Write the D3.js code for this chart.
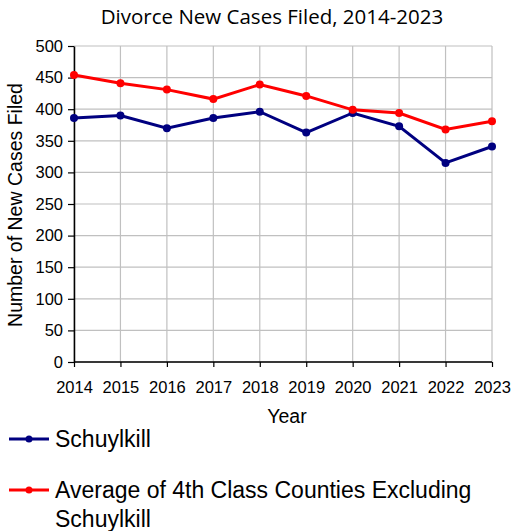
<!DOCTYPE html>
<html><head><meta charset="utf-8">
<script src="https://cdn.jsdelivr.net/npm/d3@7"></script>
<style>body{margin:0;background:#fff}svg{display:block;font-family:"Liberation Sans",Arial,sans-serif}</style>
</head><body><svg id="c" width="513" height="531"></svg>
<script>
const years = [2014,2015,2016,2017,2018,2019,2020,2021,2022,2023];
const schuylkill = [386,390,370,386,396,363,394,373,315,341];
const average4th = [454,441,431,416,439,421,399,394,368,381];
const yTicks = [0,50,100,150,200,250,300,350,400,450,500];
const seriesNames = ["Schuylkill","Average of 4th Class Counties Excluding Schuylkill"];

const svg = d3.select("#c");
const L=74,R=492,T=46,B=362;
const x = d3.scalePoint().domain(years).range([L,R]);
const y = d3.scaleLinear().domain([0,500]).range([B,T]);

// grid
svg.append("g").selectAll("line").data(yTicks).join("line")
  .attr("x1",L).attr("x2",R).attr("y1",d=>y(d)).attr("y2",d=>y(d))
  .attr("stroke","#c0c0c0").attr("stroke-width",1.2);
svg.append("g").selectAll("line").data(years).join("line")
  .attr("x1",d=>x(d)).attr("x2",d=>x(d)).attr("y1",T).attr("y2",B)
  .attr("stroke","#c0c0c0").attr("stroke-width",1.2);

// axes
const ya = svg.append("g").attr("transform",`translate(${L},0)`)
  .call(d3.axisLeft(y).tickValues(yTicks).tickSize(6).tickSizeOuter(0).tickPadding(5));
const xa = svg.append("g").attr("transform",`translate(0,${B})`)
  .call(d3.axisBottom(x).tickSize(5).tickSizeOuter(0).tickPadding(14));
[ya,xa].forEach(a=>{
  a.select(".domain").attr("stroke","#000").attr("stroke-width",1.5);
  a.selectAll(".tick line").attr("stroke","#000").attr("stroke-width",1.2);
  a.selectAll("text").attr("font-size",16.5).attr("fill","#000").attr("font-family","Liberation Sans, Arial, sans-serif");
});
xa.select(".domain").attr("d",`M${L},0H${R}`);

// lines
const line = d3.line().x((d,i)=>x(years[i])).y(d=>y(d));
const series = [[schuylkill,"#000080"],[average4th,"#ff0000"]];
series.forEach(([vals,col])=>{
  svg.append("path").datum(vals).attr("d",line).attr("fill","none")
    .attr("stroke",col).attr("stroke-width",3);
  svg.append("g").selectAll("circle").data(vals).join("circle")
    .attr("cx",(d,i)=>x(years[i])).attr("cy",d=>y(d)).attr("r",4).attr("fill",col);
});

// title & axis labels
svg.append("text").attr("x",272).attr("y",24).attr("text-anchor","middle")
  .attr("font-family","Open Sans, sans-serif").attr("font-size",20.5).text("Divorce New Cases Filed, 2014-2023");
svg.append("text").attr("x",287).attr("y",423).attr("text-anchor","middle")
  .attr("font-size",19.5).text("Year");
svg.append("text").attr("transform","translate(22,205) rotate(-90)").attr("text-anchor","middle")
  .attr("font-size",19.5).text("Number of New Cases Filed");

// legend
const lg = [
  {c:"#000080",y:439,lines:[seriesNames[0]]},
  {c:"#ff0000",y:490,lines:["Average of 4th Class Counties Excluding","Schuylkill"]}
];
lg.forEach(d=>{
  svg.append("line").attr("x1",9).attr("x2",49).attr("y1",d.y).attr("y2",d.y)
    .attr("stroke",d.c).attr("stroke-width",3);
  svg.append("circle").attr("cx",29).attr("cy",d.y).attr("r",3.5).attr("fill",d.c);
  const t = svg.append("text").attr("x",55).attr("y",d.y+8).attr("font-size",23);
  d.lines.forEach((s,i)=>t.append("tspan").attr("x",55).attr("dy",i?29:0).text(s));
});
</script></body></html>
